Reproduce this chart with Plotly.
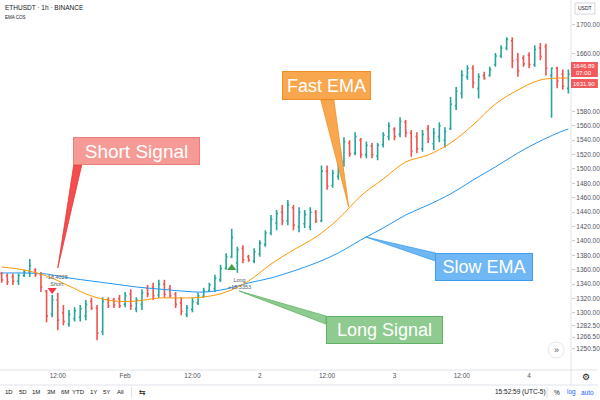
import plotly.graph_objects as go
import pandas as pd

# ---------------- data ----------------
start_time = "2021-01-31 02:00"
opens = [1355, 1352, 1350, 1344, 1352, 1357, 1360, 1353, 1330, 1298,
         1318, 1300, 1285, 1292, 1294, 1296, 1316, 1307, 1274, 1318,
         1318, 1320, 1312, 1326, 1306, 1312, 1334, 1336, 1325, 1340,
         1334, 1326, 1314, 1298, 1305, 1314, 1323, 1331, 1334, 1346,
         1362, 1378, 1370, 1390, 1378, 1372, 1382, 1395, 1411, 1425,
         1440, 1428, 1446, 1420, 1424, 1420, 1440, 1428, 1497, 1477,
         1490, 1510, 1536, 1522, 1540, 1520, 1532, 1518, 1534, 1545,
         1555, 1548, 1565, 1550, 1545, 1528, 1555, 1535, 1545, 1540,
         1556, 1588, 1605, 1628, 1640, 1612, 1630, 1630, 1645, 1657,
         1668, 1678, 1652, 1654, 1658, 1645, 1668, 1670, 1630, 1640,
         1632, 1612]
highs = [1357, 1355, 1355, 1355, 1360, 1375, 1362, 1357, 1332, 1325,
         1328, 1311, 1304, 1308, 1311, 1318, 1321, 1311, 1322, 1322,
         1321, 1325, 1329, 1333, 1322, 1333, 1339, 1342, 1346, 1346,
         1339, 1329, 1322, 1311, 1321, 1328, 1335, 1342, 1353, 1367,
         1383, 1417, 1392, 1394, 1381, 1390, 1401, 1415, 1436, 1443,
         1450, 1457, 1450, 1447, 1443, 1447, 1443, 1505, 1505, 1499,
         1522, 1544, 1540, 1551, 1543, 1538, 1536, 1536, 1551, 1565,
         1558, 1572, 1568, 1554, 1551, 1554, 1561, 1557, 1565, 1558,
         1600, 1614, 1637, 1644, 1644, 1633, 1635, 1642, 1661, 1672,
         1683, 1683, 1661, 1658, 1662, 1672, 1675, 1674, 1641, 1642,
         1638, 1638]
lows = [1342, 1339, 1339, 1339, 1350, 1350, 1350, 1329, 1287, 1294,
        1276, 1283, 1281, 1288, 1288, 1290, 1304, 1262, 1269, 1307,
        1307, 1307, 1308, 1304, 1301, 1304, 1322, 1318, 1321, 1321,
        1321, 1307, 1297, 1294, 1301, 1311, 1321, 1329, 1329, 1343,
        1360, 1376, 1356, 1369, 1371, 1369, 1378, 1392, 1408, 1415,
        1422, 1422, 1415, 1412, 1418, 1415, 1425, 1426, 1471, 1474,
        1485, 1503, 1517, 1519, 1515, 1515, 1515, 1512, 1530, 1540,
        1540, 1544, 1544, 1517, 1522, 1524, 1536, 1526, 1537, 1530,
        1554, 1582, 1598, 1624, 1612, 1598, 1624, 1628, 1642, 1654,
        1665, 1640, 1628, 1642, 1640, 1642, 1651, 1630, 1571, 1612,
        1610, 1605]
closes = [1346, 1343, 1344, 1352, 1357, 1366, 1353, 1336, 1296, 1318,
          1290, 1288, 1298, 1303, 1306, 1312, 1307, 1272, 1316, 1310,
          1311, 1310, 1324, 1310, 1318, 1328, 1326, 1324, 1340, 1326,
          1324, 1312, 1302, 1307, 1316, 1324, 1331, 1339, 1348, 1362,
          1378, 1405, 1388, 1374, 1373, 1385, 1397, 1411, 1430, 1438,
          1428, 1450, 1422, 1440, 1437, 1440, 1428, 1497, 1476, 1494,
          1515, 1538, 1521, 1545, 1520, 1533, 1520, 1533, 1547, 1560,
          1545, 1566, 1550, 1525, 1528, 1548, 1542, 1550, 1560, 1552,
          1590, 1608, 1630, 1640, 1620, 1628, 1626, 1638, 1657, 1668,
          1680, 1650, 1636, 1646, 1645, 1666, 1656, 1640, 1640, 1622,
          1615, 1631.9]

# EMA values read at every 4th bar (bar index) plus the last bar
ema_bar_index = [0, 4, 8, 12, 16, 20, 24, 28, 32, 36, 40, 44, 48, 52, 56,
                 60, 64, 68, 72, 76, 80, 84, 88, 92, 96, 100, 101]
fast_ema = [1363.9, 1359.7, 1351.4, 1337.5, 1323.6, 1316.6, 1316.6, 1320.8,
            1320.8, 1322.2, 1329.1, 1344.4, 1368.0, 1387.5, 1405.6, 1430.5,
            1462.5, 1486.1, 1509.7, 1519.4, 1536.1, 1561.1, 1590.3, 1609.7,
            1623.6, 1626.4, 1626.4]
slow_ema = [1355.5, 1355.5, 1354.1, 1348.6, 1344.4, 1340.3, 1336.1, 1333.3,
            1330.5, 1329.1, 1333.3, 1341.7, 1348.6, 1358.3, 1369.4, 1383.3,
            1401.4, 1418.0, 1436.1, 1450.0, 1465.3, 1484.7, 1502.8, 1522.2,
            1538.9, 1552.8, 1555.5]

# strategy signals
signal_bar_index = [9, 41]
signal_price = [1332, 1362.5]
signal_side = ["Short", "Long"]
signal_text = ["-18.4025<br>Short", "Long<br>+18.3353"]

# axis labels
y_tick_values = [1250.5, 1266.5, 1282.5, 1300, 1320, 1340, 1360, 1380, 1400,
                 1420, 1440, 1460, 1480, 1500, 1520, 1540, 1560, 1580, 1660, 1700]
y_tick_labels = ["1250.50", "1266.50", "1282.50", "1300.00", "1320.00",
                 "1340.00", "1360.00", "1380.00", "1400.00", "1420.00",
                 "1440.00", "1460.00", "1480.00", "1500.00", "1520.00",
                 "1540.00", "1560.00", "1580.00", "1660.00", "1700.00"]
x_tick_values = ["2021-01-31 12:00", "2021-02-01 00:00", "2021-02-01 12:00",
                 "2021-02-02 00:00", "2021-02-02 12:00", "2021-02-03 00:00",
                 "2021-02-03 12:00", "2021-02-04 00:00"]
x_tick_labels = ["12:00", "Feb", "12:00", "2", "12:00", "3", "12:00", "4"]

range_buttons = ["1D", "5D", "1M", "3M", "6M", "YTD", "1Y", "5Y", "All"]

# ---------------- figure ----------------
times = pd.date_range(start_time, periods=len(opens), freq="h")
ema_times = [times[i] for i in ema_bar_index]
sig_times = [times[i] for i in signal_bar_index]

W, H = 600, 400
PW, PH = 573, 370   # plot area in px


def px(x):
    return x / PW


def py(y):
    return (PH - y) / PH


fig = go.Figure()

fig.add_trace(go.Ohlc(
    x=times, open=opens, high=highs, low=lows, close=closes,
    increasing=dict(line=dict(color="#26a69a", width=1.6)),
    decreasing=dict(line=dict(color="#ef5350", width=1.6)),
    tickwidth=0.25, hoverinfo="skip"))

fig.add_trace(go.Scatter(x=ema_times, y=slow_ema, mode="lines",
                         line=dict(color="#2196f3", width=1, shape="spline"),
                         hoverinfo="skip"))
fig.add_trace(go.Scatter(x=ema_times, y=fast_ema, mode="lines",
                         line=dict(color="#ff9800", width=1, shape="spline"),
                         hoverinfo="skip"))

sig_colors = ["#f23645" if s == "Short" else "#43a047" for s in signal_side]
sig_symbols = ["triangle-down" if s == "Short" else "triangle-up" for s in signal_side]
fig.add_trace(go.Scatter(x=sig_times, y=signal_price, mode="markers",
                         marker=dict(symbol=sig_symbols, color=sig_colors, size=8),
                         hoverinfo="skip"))

annotations = []
# signal texts
for t, p, s, txt in zip(sig_times, signal_price, signal_side, signal_text):
    if s == "Short":
        xs, ys = 5, 9
    else:
        xs, ys = 8, -16
    annotations.append(dict(x=t, y=p, xref="x", yref="y", text=txt,
                            showarrow=False, xshift=xs, yshift=ys,
                            font=dict(size=5.5, color="#555a66"),
                            align="center"))

# call-out boxes
callouts = [
    ("Short Signal", 136.5, 151, 127, 28, "#f59a95", "#ee7c77", 19),
    ("Fast EMA", 327.5, 85.5, 89, 29, "#f9a74f", "#ef8f22", 18),
    ("Slow EMA", 485.5, 266.5, 98, 28, "#6fb7f5", "#3f9deb", 18),
    ("Long Signal", 385.5, 329.5, 117, 28, "#8fcb91", "#62b265", 18),
]
for txt, cx, cy, w, h, bg, bd, fs in callouts:
    annotations.append(dict(x=px(cx), y=py(cy), xref="paper", yref="paper",
                            text=txt, showarrow=False, xanchor="center",
                            yanchor="middle", width=w - 4, height=h - 4,
                            bgcolor=bg, bordercolor=bd, borderwidth=1,
                            font=dict(size=fs, color="white",
                                      family="Liberation Sans")))

shapes = []
wedges = [
    ([(74, 165), (82, 165), (58, 268)], "#f44c4f", "#e53935"),
    ([(322, 100), (335, 100), (350, 207)], "#f9a74f", "#ef8f22"),
    ([(437, 253), (437, 261), (367, 237)], "#6fb7f5", "#3f9deb"),
    ([(327, 316), (327, 324), (240, 291)], "#8fcb91", "#62b265"),
]
for pts, fc, lc in wedges:
    path = "M " + " L ".join(f"{px(a):.5f},{py(b):.5f}" for a, b in pts) + " Z"
    shapes.append(dict(type="path", xref="paper", yref="paper", path=path,
                       fillcolor=fc, line=dict(color=lc, width=0.8),
                       layer="above"))

# frame lines
shapes.append(dict(type="line", xref="paper", yref="paper", x0=0, x1=W / PW,
                   y0=0, y1=0, line=dict(color="#e0e3eb", width=1)))
shapes.append(dict(type="line", xref="paper", yref="paper", x0=1, x1=1,
                   y0=py(385), y1=1, line=dict(color="#e0e3eb", width=1)))
shapes.append(dict(type="line", xref="paper", yref="paper", x0=0, x1=W / PW,
                   y0=py(385), y1=py(385), line=dict(color="#e0e3eb", width=1)))
for sx in (132, 549):
    shapes.append(dict(type="line", xref="paper", yref="paper", x0=px(sx),
                       x1=px(sx), y0=py(387), y1=py(398),
                       line=dict(color="#e0e3eb", width=1)))
# scroll button
shapes.append(dict(type="circle", xref="paper", yref="paper",
                   x0=px(550), x1=px(566), y0=py(358), y1=py(342),
                   fillcolor="white", line=dict(color="#e6e8ee", width=1)))
# USDT box
shapes.append(dict(type="rect", xref="paper", yref="paper",
                   x0=px(577), x1=px(597), y0=py(14), y1=py(3),
                   fillcolor="white", line=dict(color="#c9ccd4", width=0.8)))
# price labels on axis
shapes.append(dict(type="rect", xref="paper", yref="paper",
                   x0=1, x1=W / PW, y0=py(77), y1=py(62),
                   fillcolor="#f05a5c", line=dict(width=0)))
shapes.append(dict(type="rect", xref="paper", yref="paper",
                   x0=1, x1=W / PW, y0=py(88), y1=py(79),
                   fillcolor="#f05a5c", line=dict(width=0)))

annotations += [
    dict(x=px(586.5), y=py(66), xref="paper", yref="paper", text="1646.89",
         showarrow=False, xanchor="center", yanchor="middle",
         font=dict(size=6, color="white")),
    dict(x=px(586.5), y=py(73), xref="paper", yref="paper", text="07:00",
         showarrow=False, xanchor="center", yanchor="middle",
         font=dict(size=6, color="white")),
    dict(x=px(586.5), y=py(83.5), xref="paper", yref="paper", text="1631.90",
         showarrow=False, xanchor="center", yanchor="middle",
         font=dict(size=6, color="white")),
    dict(x=px(587), y=py(8.5), xref="paper", yref="paper", text="USDT",
         showarrow=False, xanchor="center", yanchor="middle",
         font=dict(size=5, color="#131722")),
    dict(x=px(3), y=py(7.5), xref="paper", yref="paper",
         text="ETHUSDT · 1h · BINANCE", showarrow=False, xanchor="left",
         yanchor="middle", font=dict(size=6.5, color="#131722")),
    dict(x=px(3), y=py(18), xref="paper", yref="paper", text="EMA COS",
         showarrow=False, xanchor="left", yanchor="middle",
         font=dict(size=4.5, color="#131722")),
    dict(x=px(558), y=py(350), xref="paper", yref="paper", text="»",
         showarrow=False, xanchor="center", yanchor="middle",
         font=dict(size=9, color="#50535e")),
    dict(x=px(588), y=py(377), xref="paper", yref="paper", text="⚙",
         showarrow=False, xanchor="center", yanchor="middle",
         font=dict(size=9, color="#131722", family="DejaVu Sans")),
    dict(x=px(495), y=py(392), xref="paper", yref="paper",
         text="15:52:59 (UTC-5)", showarrow=False, xanchor="left",
         yanchor="middle", font=dict(size=6.5, color="#131722")),
    dict(x=px(559), y=py(392), xref="paper", yref="paper", text="%",
         showarrow=False, xanchor="center", yanchor="middle",
         font=dict(size=6.5, color="#131722")),
    dict(x=px(573), y=py(392), xref="paper", yref="paper", text="log",
         showarrow=False, xanchor="center", yanchor="middle",
         font=dict(size=6.5, color="#2962ff")),
    dict(x=px(590), y=py(392), xref="paper", yref="paper", text="auto",
         showarrow=False, xanchor="center", yanchor="middle",
         font=dict(size=6.5, color="#2962ff")),
    dict(x=px(143), y=py(392), xref="paper", yref="paper", text="⇆",
         showarrow=False, xanchor="center", yanchor="middle",
         font=dict(size=8, color="#131722", family="DejaVu Sans")),
]
btn_x = [9, 23, 36, 51, 65, 79, 94, 107, 121]
for lbl, bx in zip(range_buttons, btn_x):
    annotations.append(dict(x=px(bx), y=py(392), xref="paper", yref="paper",
                            text=lbl, showarrow=False, xanchor="center",
                            yanchor="middle",
                            font=dict(size=6, color="#131722")))

fig.update_layout(
    width=W, height=H,
    margin=dict(l=0, r=W - PW, t=0, b=H - PH),
    paper_bgcolor="white", plot_bgcolor="white",
    showlegend=False,
    font=dict(family="Liberation Sans", color="#131722"),
    xaxis=dict(type="date",
               range=["2021-01-31 01:42:00", "2021-02-04 07:28:00"],
               tickvals=x_tick_values, ticktext=x_tick_labels,
               tickfont=dict(size=6.5, color="#50535e"),
               showgrid=False, zeroline=False, showline=False, ticks="",
               rangeslider=dict(visible=False)),
    yaxis=dict(side="right", range=[1220.8, 1734.7],
               tickvals=y_tick_values, ticktext=y_tick_labels,
               tickfont=dict(size=6.5, color="#50535e"),
               showgrid=False, zeroline=False, showline=False,
               ticks="outside", ticklen=3, tickcolor="#c9ccd4"),
    shapes=shapes, annotations=annotations,
)

fig.write_html("out.html", config={"displayModeBar": False},
               post_script="document.body.style.margin='0';"
                           "document.body.style.overflow='hidden';")
